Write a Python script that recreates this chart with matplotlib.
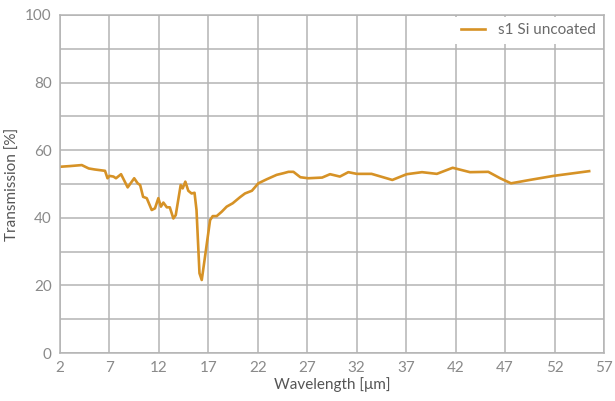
import numpy as np
import matplotlib
matplotlib.use('Agg')
from matplotlib import pyplot as plt

# Datos
wavelength = [2.0, 3.0, 4.2, 4.9, 5.5, 6.55, 6.8, 7.0, 7.4, 7.66, 8.17, 8.84, 9.5, 9.85,
              10.1, 10.4, 10.77, 11.27, 11.6, 11.94, 12.2, 12.45, 12.8, 13.1, 13.46, 13.7,
              14.2, 14.4, 14.67, 14.97, 15.3, 15.6, 15.8, 16.1, 16.33, 16.66, 17.17, 17.44,
              17.84, 18.35, 18.85, 19.46, 19.87, 20.2, 20.7, 21.4, 22.05, 22.9, 23.9, 24.6,
              25.1, 25.6, 26.3, 27.1, 28.5, 29.3, 30.3, 31.15, 32.0, 33.5, 35.6, 37.05,
              38.6, 40.1, 41.7, 43.45, 45.3, 46.5, 47.6, 49.5, 51.9, 55.5]
transmission = [55.1, 55.3, 55.6, 54.6, 54.3, 53.9, 51.7, 52.4, 52.2, 51.7, 52.9, 49.0, 51.7, 50.2,
                49.7, 46.2, 45.8, 42.3, 42.8, 45.8, 43.3, 44.5, 43.1, 43.1, 39.8, 40.8,
                49.7, 48.7, 50.7, 48.0, 47.2, 47.4, 42.3, 23.6, 21.6, 28.5, 39.3, 40.5,
                40.5, 41.8, 43.3, 44.3, 45.3, 46.1, 47.2, 48.0, 50.2, 51.4, 52.7, 53.2,
                53.6, 53.6, 52.0, 51.7, 51.9, 52.9, 52.2, 53.5, 53.0, 53.0, 51.2, 52.9,
                53.5, 53.0, 54.8, 53.5, 53.6, 51.7, 50.2, 51.2, 52.4, 53.8]
xticks = [2, 7, 12, 17, 22, 27, 32, 37, 42, 47, 52, 57]
yticks = [0, 20, 40, 60, 80, 100]

plt.rcParams['font.family'] = ['Lato', 'DejaVu Sans']

fig = plt.figure(figsize=(6.15, 4.01), dpi=100)
ax = fig.add_axes([0.0976, 0.1197, 0.8845, 0.8429])

ax.plot(wavelength, transmission, color='#D69226', linewidth=1.9, label='s1 Si uncoated')

ax.set_xlim(2, 57)
ax.set_ylim(0, 100)
ax.set_xticks(xticks)
ax.set_yticks(yticks)
ax.set_yticks(np.arange(10, 100, 20), minor=True)
ax.grid(True, which='both', color='#b4b4b4', linewidth=1.1)
ax.set_axisbelow(True)
ax.tick_params(which='both', length=0, labelsize=11, labelcolor='#8a8a8a', pad=6)
for s in ax.spines.values():
    s.set_color('#b4b4b4')
    s.set_linewidth(1.1)

ax.set_xlabel('Wavelength [μm]', fontsize=11, color='#555555', labelpad=1)
ax.set_ylabel('Transmission [%]', fontsize=11, color='#555555', labelpad=4)

leg = ax.legend(loc='upper right', frameon=True, fancybox=False, fontsize=11,
                handlelength=1.6, borderaxespad=0.15)
leg.get_frame().set_edgecolor('none')
leg.get_frame().set_facecolor('white')
leg.get_frame().set_alpha(1)
for t in leg.get_texts():
    t.set_color('#6a6a6a')

plt.savefig('out.png', dpi=100)
